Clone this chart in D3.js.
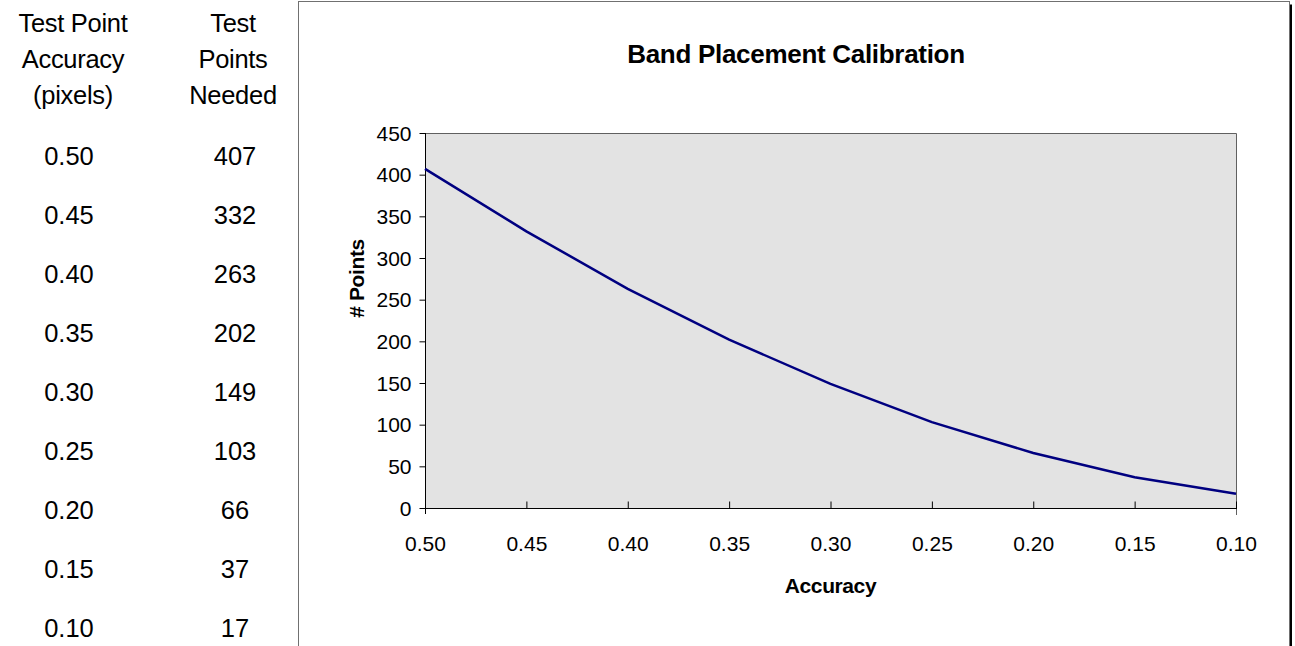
<!DOCTYPE html>
<html>
<head>
<meta charset="utf-8">
<script src="https://cdnjs.cloudflare.com/ajax/libs/d3/7.8.5/d3.min.js"></script>
<style>
  html, body { margin: 0; padding: 0; background: #fff; }
  svg { display: block; font-family: "Liberation Sans", Arial, sans-serif; }
</style>
</head>
<body>
<svg id="chart" width="1295" height="646"></svg>
<script>
// Calibration data: accuracy (pixels) vs. test points needed
const accuracyLabels = ["0.50", "0.45", "0.40", "0.35", "0.30", "0.25", "0.20", "0.15", "0.10"];
const pointsNeeded = [407, 332, 263, 202, 149, 103, 66, 37, 17];
const yTickValues = [0, 50, 100, 150, 200, 250, 300, 350, 400, 450];
const tableHeaderAccuracy = ["Test Point", "Accuracy", "(pixels)"];
const tableHeaderPoints = ["Test", "Points", "Needed"];

const svg = d3.select("#chart");

// ---- Side table ----
const colAccX = 73, colPtsX = 233;
const headerBaselines = [32, 68, 104];
const rowBaseline0 = 165, rowStep = 59;
const tableFont = 25.5;

const table = svg.append("g").attr("font-size", tableFont).attr("fill", "#000");
table.selectAll("text.hA").data(tableHeaderAccuracy).join("text")
  .attr("class", "hA").attr("x", colAccX).attr("y", (d, i) => headerBaselines[i])
  .attr("text-anchor", "middle").attr("letter-spacing", -0.3).text(d => d);
table.selectAll("text.hP").data(tableHeaderPoints).join("text")
  .attr("class", "hP").attr("x", colPtsX).attr("y", (d, i) => headerBaselines[i])
  .attr("text-anchor", "middle").attr("letter-spacing", -0.3).text(d => d);
table.selectAll("text.cA").data(accuracyLabels).join("text")
  .attr("class", "cA").attr("x", colAccX - 4).attr("y", (d, i) => rowBaseline0 + i * rowStep)
  .attr("text-anchor", "middle").text(d => d);
table.selectAll("text.cP").data(pointsNeeded).join("text")
  .attr("class", "cP").attr("x", colPtsX + 2).attr("y", (d, i) => rowBaseline0 + i * rowStep)
  .attr("text-anchor", "middle").text(d => d);

// ---- Chart frame ----
const box = { left: 298.5, top: 1.5, right: 1289.5, bottom: 720 };
svg.append("rect")
  .attr("x", box.left).attr("y", box.top)
  .attr("width", box.right - box.left).attr("height", box.bottom - box.top)
  .attr("fill", "#fff").attr("stroke", "#707070").attr("stroke-width", 1);
// drop shadow on the right edge
svg.append("line")
  .attr("x1", box.right + 1.5).attr("x2", box.right + 1.5)
  .attr("y1", box.top + 3).attr("y2", box.bottom)
  .attr("stroke", "#000").attr("stroke-width", 2);

// ---- Plot area ----
const plot = { left: 425, right: 1236, top: 133, bottom: 508 };

const x = d3.scalePoint().domain(accuracyLabels).range([plot.left, plot.right]);
const y = d3.scaleLinear().domain([0, 450]).range([plot.bottom, plot.top]);

svg.append("rect")
  .attr("x", plot.left).attr("y", plot.top)
  .attr("width", plot.right - plot.left).attr("height", plot.bottom - plot.top)
  .attr("fill", "#e3e3e3");

// top and right borders of the plot area
svg.append("path")
  .attr("d", `M${plot.left},${plot.top + 0.5}H${plot.right + 0.5}V${plot.bottom + 7}`)
  .attr("fill", "none").attr("stroke", "#606060").attr("stroke-width", 1);

// Y axis
const yAxis = svg.append("g")
  .attr("transform", `translate(${plot.left + 0.5},0)`)
  .call(d3.axisLeft(y).tickValues(yTickValues).tickSize(6).tickFormat(d3.format("d")));
yAxis.select(".domain").remove();
yAxis.selectAll(".tick line").attr("stroke", "#000");
yAxis.selectAll(".tick text")
  .attr("x", -14).attr("dy", "0.34em")
  .attr("font-size", 21).attr("font-family", "Liberation Sans, Arial, sans-serif")
  .attr("fill", "#000");
svg.append("line")
  .attr("x1", plot.left + 0.5).attr("x2", plot.left + 0.5)
  .attr("y1", plot.top).attr("y2", plot.bottom + 6)
  .attr("stroke", "#000").attr("stroke-width", 1);

// X axis
const xAxis = svg.append("g")
  .attr("transform", `translate(0,${plot.bottom + 0.5})`)
  .call(d3.axisBottom(x).tickSize(-7));
xAxis.select(".domain").remove();
xAxis.selectAll(".tick line").attr("stroke", "#000");
xAxis.selectAll(".tick text")
  .attr("y", 42).attr("dy", 0)
  .attr("font-size", 21).attr("font-family", "Liberation Sans, Arial, sans-serif")
  .attr("fill", "#000");
svg.append("line")
  .attr("x1", plot.left).attr("x2", plot.right + 1)
  .attr("y1", plot.bottom + 0.5).attr("y2", plot.bottom + 0.5)
  .attr("stroke", "#000").attr("stroke-width", 1);

// Series line
const line = d3.line()
  .x((d, i) => x(accuracyLabels[i]))
  .y(d => y(d));
svg.append("path")
  .datum(pointsNeeded)
  .attr("d", line)
  .attr("fill", "none")
  .attr("stroke", "#000080")
  .attr("stroke-width", 2.5);

// Titles
svg.append("text")
  .attr("x", (box.left + box.right) / 2 + 2).attr("y", 63)
  .attr("text-anchor", "middle").attr("font-weight", "bold").attr("font-size", 26)
  .attr("letter-spacing", -0.3)
  .text("Band Placement Calibration");

svg.append("text")
  .attr("x", (plot.left + plot.right) / 2).attr("y", 593)
  .attr("text-anchor", "middle").attr("font-weight", "bold").attr("font-size", 21)
  .attr("letter-spacing", -0.4)
  .text("Accuracy");

svg.append("text")
  .attr("transform", `translate(364,${(plot.top + plot.bottom) / 2 - 42}) rotate(-90)`)
  .attr("text-anchor", "middle").attr("font-weight", "bold").attr("font-size", 21)
  .attr("letter-spacing", -0.4)
  .text("# Points");
</script>
</body>
</html>
